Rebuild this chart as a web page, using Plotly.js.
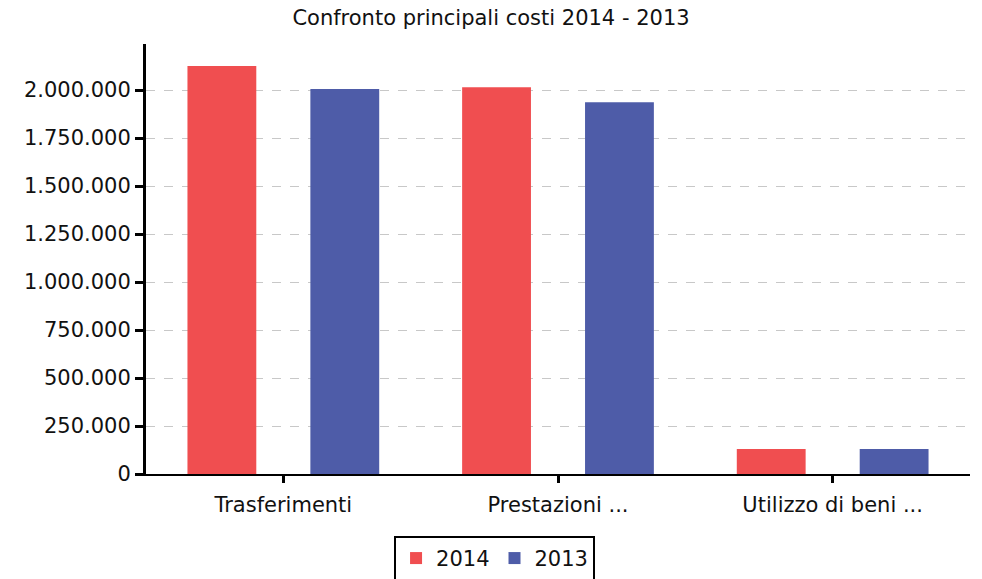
<!DOCTYPE html>
<html>
<head>
<meta charset="utf-8">
<script src="https://cdn.plot.ly/plotly-3.0.1.min.js"></script>
<style>html,body{margin:0;padding:0;background:#fff;}#chart{width:982px;height:579px;}</style>
</head>
<body>
<div id="chart"></div>
<script>
const categories = ["Trasferimenti", "Prestazioni ...", "Utilizzo di beni ..."];
const seriesNames = ["2014", "2013"];
const values2014 = [2125000, 2015000, 130000];
const values2013 = [2005000, 1937000, 130000];
const tickValues = [0, 250000, 500000, 750000, 1000000, 1250000, 1500000, 1750000, 2000000];

const font = "DejaVu Sans, sans-serif";
const data = [
  {type: "bar", name: seriesNames[0], x: categories, y: values2014, marker: {color: "rgb(240,78,80)"}},
  {type: "bar", name: seriesNames[1], x: categories, y: values2013, marker: {color: "rgb(78,92,168)"}}
];
const layout = {
  width: 982, height: 579,
  margin: {l: 146, r: 12, t: 44, b: 105, autoexpand: false},
  paper_bgcolor: "#fff", plot_bgcolor: "#fff",
  separators: ",.",
  font: {family: font, size: 21, color: "#111"},
  title: {text: "Confronto principali costi 2014 - 2013", x: 0.5, xanchor: "center", y: 0.969, yanchor: "middle", font: {family: font, size: 21, color: "#111"}},
  barmode: "group", bargap: 0.105, bargroupgap: 0.44,
  showlegend: true,
  legend: {orientation: "h", x: 0.423, xanchor: "center", y: -0.144, yanchor: "top",
           bordercolor: "#000", borderwidth: 2, font: {family: font, size: 21, color: "#111"}},
  xaxis: {showline: true, linecolor: "#000", linewidth: 2, ticks: "outside", ticklen: 7, tickwidth: 3, tickcolor: "#000",
          ticklabelstandoff: 4,
          showgrid: false, zeroline: false, tickfont: {family: font, size: 21, color: "#111"}},
  yaxis: {range: [0, 2240000], tickvals: tickValues, tickformat: ",d", showline: true, linecolor: "#000", linewidth: 3,
          ticks: "outside", ticklen: 8, tickwidth: 3, tickcolor: "#000", showgrid: true, gridcolor: "#c8c8c8", griddash: "dash", gridwidth: 1,
          zeroline: false, tickfont: {family: font, size: 21, color: "#111"}}
};
Plotly.newPlot("chart", data, layout, {displayModeBar: false, staticPlot: true});
</script>
</body>
</html>
